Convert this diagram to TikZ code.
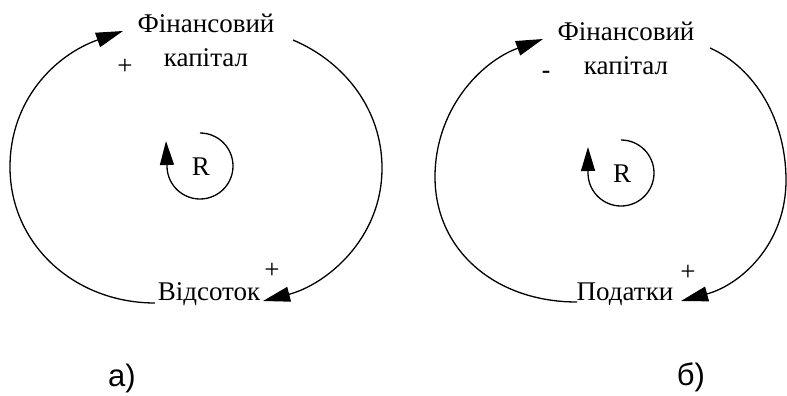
\documentclass[tikz,border=0pt]{standalone}
\usepackage{fontspec}
\setmainfont{Liberation Serif}
\newfontfamily\sansf{Liberation Sans}
\usetikzlibrary{arrows.meta}
\begin{document}
\begin{tikzpicture}[x=1pt,y=-1pt,
  lbl/.style={font=\fontsize{27}{34}\selectfont, align=center, inner sep=0pt},
  sgn/.style={font=\fontsize{27}{27}\selectfont, inner sep=0pt},
  dashsgn/.style={font=\sansf\fontsize{27}{27}\selectfont, inner sep=0pt},
  sublbl/.style={font=\sansf\fontsize{31}{31}\selectfont, inner sep=0pt},
  link/.style={line width=1.3pt, -{Triangle[length=27pt,width=15pt]}},
  loopl/.style={line width=1.3pt, -{Triangle[length=24pt,width=14pt]}}
]
\useasboundingbox (0,0) rectangle (787,396);

% ---------- a) ----------
\node[lbl] (finA) at (206,40) {Фінансовий\\капітал};
\node[lbl] (vidA) at (209,294) {Відсоток};
\node[sgn] (pA1) at (125,67) {+};
\node[sgn] (pA2) at (272,271) {+};
\node[sgn] (rA) at (201,167) {R};
\coordinate (lAs) at (155,303);
\coordinate (lAe) at (123,31);
\coordinate (rAs) at (293,40);
\coordinate (rAe) at (263,301);
\draw[link] (lAs) .. controls (75,303) and (10,245) .. (10,167)
                  .. controls (10,100) and (55,55) .. (lAe);
\draw[link] (rAs) .. controls (345,62) and (382,110) .. (382,168)
                  .. controls (382,240) and (325,285) .. (rAe);
\coordinate (cAs) at (200,133);
\coordinate (cAt) at (166,141);
\draw[loopl] (cAs) arc[start angle=-90, end angle=177, radius=33] -- (cAt);
\node[sublbl] (subA) at (122,378) {а)};

% ---------- б) ----------
\node[lbl] (finB) at (626,48.5) {Фінансовий\\капітал};
\node[lbl] (podB) at (625,294) {Податки};
\node[dashsgn] (mB) at (546,75) {-};
\node[sgn] (pB2) at (688,273) {+};
\node[sgn] (rB) at (622,174) {R};
\coordinate (lBs) at (577,302);
\coordinate (lBe) at (543,39);
\coordinate (rBs) at (710,48);
\coordinate (rBe) at (681,301);
\draw[link] (lBs) .. controls (495,302) and (435,250) .. (435,177)
                  .. controls (435,110) and (480,62) .. (lBe);
\draw[link] (rBs) .. controls (755,68) and (786,120) .. (786,180)
                  .. controls (786,245) and (740,285) .. (rBe);
\coordinate (cBs) at (621,140);
\coordinate (cBt) at (588,147);
\draw[loopl] (cBs) arc[start angle=-90, end angle=177, radius=33] -- (cBt);
\node[sublbl] (subB) at (691,377) {б)};
\end{tikzpicture}
\end{document}
